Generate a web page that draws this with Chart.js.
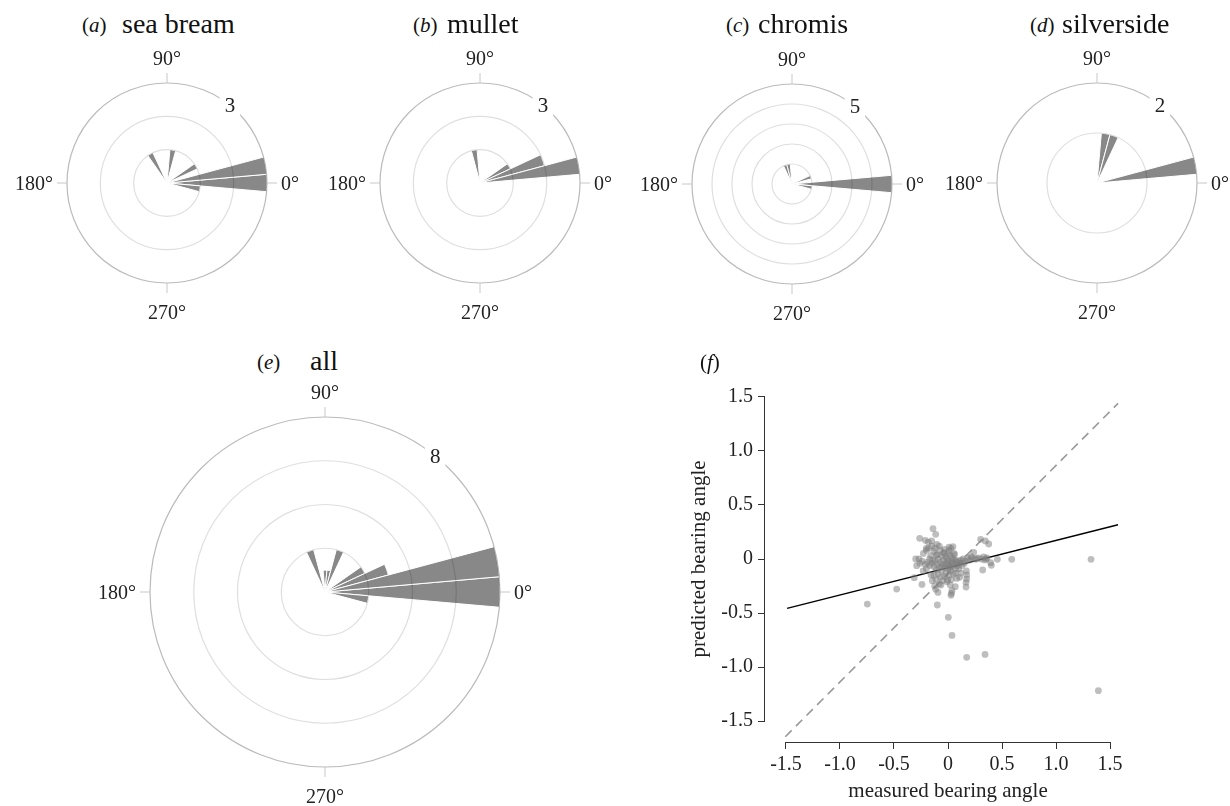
<!DOCTYPE html>
<html>
<head>
<meta charset="utf-8">
<script src="https://cdn.jsdelivr.net/npm/chart.js@4.4.1/dist/chart.umd.min.js"></script>
<style>
  html, body { margin: 0; padding: 0; width: 1230px; height: 806px; overflow: hidden; background: #fff; }
  canvas { position: absolute; }
  .t { position: absolute; font-family: "Liberation Serif", "Times New Roman", serif; color: #111; white-space: nowrap; line-height: 1; }
</style>
</head>
<body>
<script>
// rose diagrams: 10 degree bins, centre of bin in degrees (counter-clockwise from east)
const binCentres = [0, 10, 20, 30, 40, 50, 60, 70, 80, 90, 100, 110, 120, 130, 140, 150, 160, 170,
                    180, 190, 200, 210, 220, 230, 240, 250, 260, 270, 280, 290, 300, 310, 320, 330, 340, 350];
const angleTicks = ["0°", "90°", "180°", "270°"];

const seaBreamBins = [350, 0, 10, 30, 80, 120];
const seaBreamCounts = [1, 3, 3, 1, 1, 1];
const mulletBins = [10, 20, 30, 100];
const mulletCounts = [3, 2, 1, 1];
const chromisBins = [350, 0, 20, 100, 110];
const chromisCounts = [1, 5, 1, 1, 1];
const silversideBins = [10, 70, 80];
const silversideCounts = [2, 1, 1];
const allBins = [350, 0, 10, 20, 30, 70, 80, 90, 110];
const allCounts = [2, 8, 8, 3, 2, 2, 1, 1, 2];

// panel (f)
const axisTicks = [-1.5, -1.0, -0.5, 0, 0.5, 1.0, 1.5];
const measured = [
  -0.747, -0.475, -0.241, -0.312, -0.099, 0.003, 0.037, 0.173, 0.343, 1.324, 1.392, 0.590, 0.457, 0.321, 0.401,
  0.395, 0.302, 0.346, 0.377, -0.139, -0.114, -0.262, -0.210, -0.182, -0.151, -0.102, -0.299, -0.269, -0.290, -0.228,
  -0.201, 0.170, 0.173, 0.173, 0.167, 0.167, 0.108, 0.068, 0.028, 0.031, 0.037, -0.093, -0.114, -0.123, -0.145,
  -0.157, -0.065, -0.003, 0.238, 0.213, 0.265, 0.355, 0.340, 0.046, 0.028, 0.009, 0.056, -0.040, -0.071, -0.108,
  -0.12, -0.10, -0.09, -0.08, -0.07, -0.06, -0.05, -0.04, -0.03, -0.02, -0.01, 0.00, 0.00, 0.01, 0.02,
  0.03, 0.04, 0.05, 0.06, 0.07, 0.08, 0.09, 0.10, 0.11, -0.13, -0.14, -0.15, -0.17, -0.19, -0.21,
  -0.24, -0.26, -0.11, -0.09, -0.07, -0.05, -0.03, -0.01, 0.01, 0.03, 0.05, 0.07, -0.06, -0.04, -0.02,
  0.00, 0.02, 0.04, 0.06, -0.10, -0.13, -0.16, -0.18, -0.15, -0.12, 0.12, 0.14, 0.16, 0.18, 0.20,
  0.22, 0.25, 0.28, 0.31, 0.33, 0.36, 0.13, 0.15, 0.10, 0.12, -0.08, -0.11, -0.13, 0.08, 0.02,
  -0.20, -0.23, -0.17, -0.03, 0.01, -0.08, -0.20, 0.04, -0.02, -0.06, 0.07, -0.01, 0.02
];
const predicted = [
  -0.417, -0.278, -0.235, -0.173, -0.426, -0.540, -0.707, -0.910, -0.883, -0.003, -1.219, -0.003, -0.003, -0.102, -0.059,
  -0.034, 0.182, 0.167, 0.139, 0.281, 0.228, 0.191, 0.173, 0.157, 0.167, 0.136, 0.000, 0.000, -0.062, 0.052,
  0.099, -0.111, -0.148, -0.185, -0.216, -0.259, -0.170, -0.256, -0.336, -0.318, -0.293, -0.309, -0.281, -0.250, -0.201,
  -0.148, -0.241, -0.194, 0.062, 0.022, 0.000, 0.000, -0.009, 0.114, 0.099, 0.077, 0.052, 0.052, 0.083, 0.037,
  -0.02, -0.05, 0.00, -0.08, -0.03, -0.11, -0.05, -0.01, -0.08, -0.13, -0.04, -0.09, -0.02, -0.06, -0.11,
  -0.03, -0.07, -0.01, -0.05, -0.09, -0.03, -0.06, -0.02, -0.04, -0.07, -0.01, -0.04, -0.06, -0.03, -0.05,
  -0.02, -0.04, -0.10, -0.14, -0.17, -0.20, -0.16, -0.21, -0.15, -0.19, -0.14, -0.13, 0.03, 0.06, 0.02,
  0.05, 0.03, 0.01, 0.04, 0.04, 0.07, 0.03, 0.10, 0.12, 0.10, -0.01, 0.00, -0.02, 0.01, -0.01,
  0.01, 0.00, 0.01, 0.00, 0.02, 0.01, -0.06, -0.04, -0.09, -0.13, -0.23, -0.19, -0.15, -0.18, -0.24,
  -0.09, -0.11, 0.00, 0.09, 0.11, 0.12, 0.08, -0.04, -0.06, -0.07, -0.01, 0.00, -0.08
];
const fitX = [-1.49, 1.574];
const fitY = [-0.458, 0.317];
const refX = [-1.506, 1.574];
const refY = [-1.645, 1.441];

const serif = '"Liberation Serif", "Times New Roman", serif';
const panels = [
  { tag: "a", name: "sea bream",  bins: seaBreamBins,   counts: seaBreamCounts,   max: 3, step: 1, cx: 167,  cy: 183, R: 100, labX: 82,   nameX: 122,  base: 33 },
  { tag: "b", name: "mullet",     bins: mulletBins,     counts: mulletCounts,     max: 3, step: 1, cx: 480,  cy: 183, R: 100, labX: 413,  nameX: 447,  base: 33 },
  { tag: "c", name: "chromis",    bins: chromisBins,    counts: chromisCounts,    max: 5, step: 1, cx: 792,  cy: 184, R: 100, labX: 726,  nameX: 758,  base: 33 },
  { tag: "d", name: "silverside", bins: silversideBins, counts: silversideCounts, max: 2, step: 1, cx: 1097, cy: 183, R: 100, labX: 1030, nameX: 1062, base: 33 },
  { tag: "e", name: "all",        bins: allBins,        counts: allCounts,        max: 8, step: 2, cx: 325,  cy: 592, R: 175, labX: 257,  nameX: 310,  base: 370 }
];

function addText(html, size, left, baseline) {
  const d = document.createElement("div");
  d.className = "t";
  d.style.fontSize = size + "px";
  d.style.left = left + "px";
  d.style.top = (baseline - 0.8375 * size) + "px";
  d.innerHTML = html;
  document.body.appendChild(d);
}

function addCanvas(left, top, w, h) {
  const c = document.createElement("canvas");
  c.width = w; c.height = h;
  c.style.left = left + "px"; c.style.top = top + "px";
  c.style.width = w + "px"; c.style.height = h + "px";
  document.body.appendChild(c);
  return c;
}

// Chart.js draws segments clockwise (screen), the figure counts angles counter-clockwise
function roseData(bins, counts) {
  const out = binCentres.map(() => 0);
  bins.forEach((b, j) => { out[((360 - b) % 360) / 10] = counts[j]; });
  return out;
}
const roseLabels = binCentres.map((_, i) => ((360 - binCentres[i]) % 360) + "°");

const roseDecor = {
  id: "roseDecor",
  afterDraw(chart) {
    const s = chart.scales.r, ctx = chart.ctx;
    const cx = s.xCenter, cy = s.yCenter, R = s.drawingArea;
    ctx.save();
    ctx.strokeStyle = "#c8c8c8";
    ctx.lineWidth = 1;
    ctx.beginPath();
    [[1, 0], [0, -1], [-1, 0], [0, 1]].forEach(([dx, dy]) => {
      ctx.moveTo(cx + dx * R, cy + dy * R);
      ctx.lineTo(cx + dx * (R + 10), cy + dy * (R + 10));
    });
    ctx.stroke();
    ctx.fillStyle = "#222";
    ctx.font = "20px " + serif;
    ctx.textBaseline = "alphabetic";
    ctx.textAlign = "left";   ctx.fillText(angleTicks[0], cx + R + 14, cy + 7);
    ctx.textAlign = "center"; ctx.fillText(angleTicks[1], cx, cy - R - 18);
    ctx.textAlign = "right";  ctx.fillText(angleTicks[2], cx - R - 14, cy + 7);
    ctx.textAlign = "center"; ctx.fillText(angleTicks[3], cx, cy + R + 36);
    // outer ring value, set into a gap in the ring
    const a = 51 * Math.PI / 180;
    const lx = cx + R * Math.cos(a), ly = cy - R * Math.sin(a);
    const txt = String(s.max);
    ctx.font = "21px " + serif;
    const w = ctx.measureText(txt).width;
    ctx.fillStyle = "#fff";
    ctx.fillRect(lx - w / 2 - 5, ly - 11, w + 10, 22);
    ctx.fillStyle = "#222";
    ctx.textAlign = "center";
    ctx.textBaseline = "middle";
    ctx.fillText(txt, lx, ly + 1);
    ctx.restore();
  }
};

const P = 60;
panels.forEach(p => {
  addText('(<i>' + p.tag + '</i>)', 21, p.labX, p.base);
  addText(p.name, 28, p.nameX, p.base);
  const S = 2 * p.R + 2 * P;
  const cv = addCanvas(p.cx - p.R - P, p.cy - p.R - P, S, S);
  new Chart(cv.getContext("2d"), {
    type: "polarArea",
    data: {
      labels: roseLabels,
      datasets: [{
        data: roseData(p.bins, p.counts),
        backgroundColor: "#888888",
        borderColor: "#ffffff",
        borderWidth: 1
      }]
    },
    options: {
      responsive: false,
      animation: false,
      layout: { padding: P },
      plugins: { legend: { display: false }, tooltip: { enabled: false } },
      scales: {
        r: {
          min: 0,
          max: p.max,
          startAngle: 85,
          ticks: { display: false, stepSize: p.step },
          angleLines: { display: false },
          pointLabels: { display: false },
          grid: {
            circular: true,
            z: 1,
            lineWidth: 1.2,
            color: ctx => (ctx.tick && ctx.tick.value === p.max) ? "rgba(0,0,0,0.27)" : "rgba(0,0,0,0.13)"
          }
        }
      }
    },
    plugins: [roseDecor]
  });
});

// panel (f)
addText('(<i>f</i>)', 21, 700, 370);

const axisLines = {
  id: "axisLines",
  afterDraw(chart) {
    const { x, y } = chart.scales, a = chart.chartArea, ctx = chart.ctx;
    ctx.save();
    ctx.strokeStyle = "#333";
    ctx.lineWidth = 1;
    ctx.beginPath();
    ctx.moveTo(x.getPixelForValue(axisTicks[0]), a.bottom + 0.5);
    ctx.lineTo(x.getPixelForValue(axisTicks[axisTicks.length - 1]), a.bottom + 0.5);
    ctx.moveTo(a.left - 0.5, y.getPixelForValue(axisTicks[0]));
    ctx.lineTo(a.left - 0.5, y.getPixelForValue(axisTicks[axisTicks.length - 1]));
    ctx.stroke();
    ctx.restore();
  }
};

const tickFmt = v => (v === 0 ? "0" : v.toFixed(1));
const tickFont = { family: serif, size: 20 };
const titleFont = { family: serif, size: 21 };

const sc = addCanvas(640, 340, 511, 466);
new Chart(sc.getContext("2d"), {
  type: "scatter",
  data: {
    datasets: [
      {
        data: measured.map((v, i) => ({ x: v, y: predicted[i] })),
        pointRadius: 3.4,
        pointBackgroundColor: "rgba(125,125,125,0.5)",
        pointBorderWidth: 0,
        order: 0
      },
      {
        type: "line",
        data: fitX.map((v, i) => ({ x: v, y: fitY[i] })),
        borderColor: "#000",
        borderWidth: 1.3,
        pointRadius: 0,
        fill: false,
        order: 1
      },
      {
        type: "line",
        data: refX.map((v, i) => ({ x: v, y: refY[i] })),
        borderColor: "#999",
        borderDash: [9, 6],
        borderWidth: 1.6,
        pointRadius: 0,
        fill: false,
        order: 2
      }
    ]
  },
  options: {
    responsive: false,
    animation: false,
    layout: { padding: { left: 0, right: 20, top: 36, bottom: 0 } },
    plugins: { legend: { display: false }, tooltip: { enabled: false } },
    scales: {
      x: {
        type: "linear",
        min: -1.694,
        max: 1.694,
        afterBuildTicks: s => { s.ticks = axisTicks.map(v => ({ value: v })); },
        afterFit: s => { s.height = 64; },
        border: { display: false },
        grid: { drawOnChartArea: false, tickLength: 7, color: "#333" },
        ticks: { font: tickFont, color: "#222", padding: 4, autoSkip: false, maxRotation: 0, callback: tickFmt },
        title: { display: true, text: "measured bearing angle", font: titleFont, color: "#222", padding: { top: 0, bottom: 2 } }
      },
      y: {
        type: "linear",
        min: -1.694,
        max: 1.694,
        afterBuildTicks: s => { s.ticks = axisTicks.map(v => ({ value: v })); },
        afterFit: s => { s.width = 125; },
        border: { display: false },
        grid: { drawOnChartArea: false, tickLength: 7, color: "#333" },
        ticks: { font: tickFont, color: "#222", padding: 5, autoSkip: false, callback: tickFmt },
        title: { display: true, text: "predicted bearing angle", font: titleFont, color: "#222", padding: { top: 47, bottom: 0 } }
      }
    }
  },
  plugins: [axisLines]
});
</script>
</body>
</html>
